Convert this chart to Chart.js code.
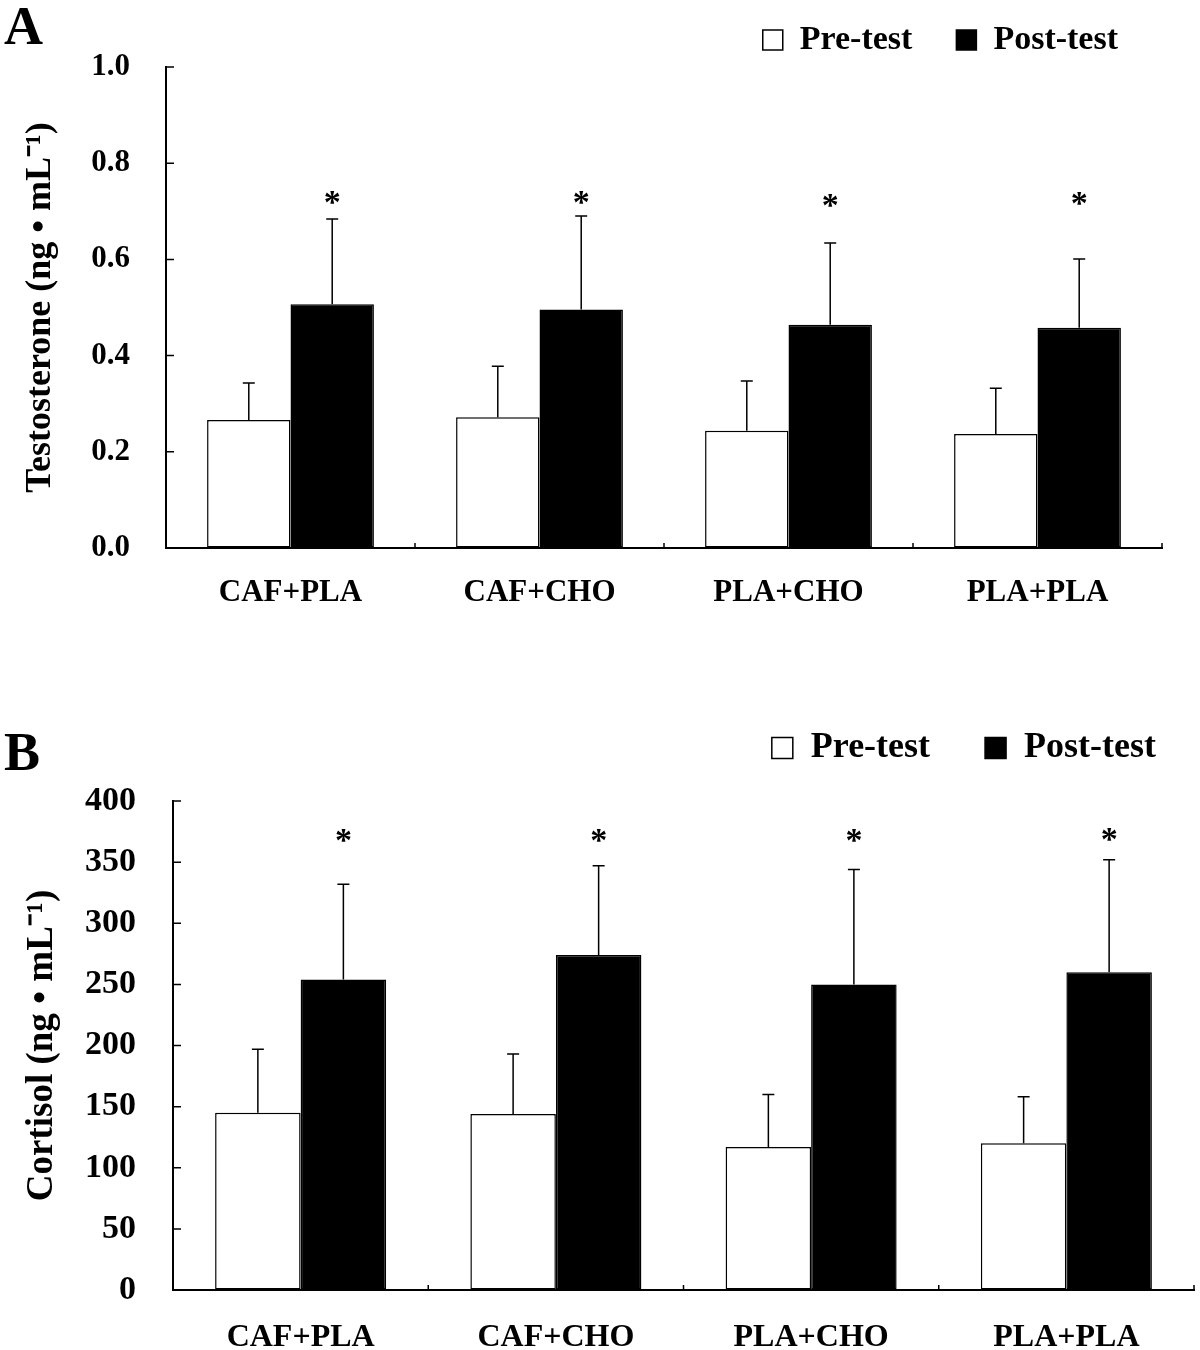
<!DOCTYPE html>
<html>
<head>
<meta charset="utf-8">
<script src="https://cdn.jsdelivr.net/npm/chart.js@4.4.0/dist/chart.umd.min.js"></script>
<style>
  body { margin: 0; background: #fff; width: 1200px; height: 1350px; position: relative; overflow: hidden; }
  .box { position: absolute; left: 0; width: 1200px; }
  .tag { position: absolute; left: 4px; font: bold 54px 'Liberation Serif', serif; line-height: 54px; color: #000; z-index: 2; }
</style>
</head>
<body>
<div class="tag" style="top:-1px">A</div>
<div class="tag" style="top:725px">B</div>
<div class="box" style="top:-21px;height:671px"><canvas id="chartA"></canvas></div>
<div class="box" style="top:675px;height:675px"><canvas id="chartB"></canvas></div>
<script>
const groups = ['CAF+PLA', 'CAF+CHO', 'PLA+CHO', 'PLA+PLA'];

// testosterone, ng/mL (mean and SD)
const testoPre = [0.266, 0.272, 0.244, 0.237];
const testoPreSD = [0.077, 0.106, 0.103, 0.095];
const testoPost = [0.507, 0.496, 0.464, 0.458];
const testoPostSD = [0.177, 0.194, 0.170, 0.143];
const testoStars = [0.722, 0.721, 0.716, 0.719];

// cortisol, ng/mL
const cortPre = [145, 144, 117, 120];
const cortPreSD = [52, 49, 43, 38];
const cortPost = [254, 274, 250, 260];
const cortPostSD = [78, 73, 94, 92];
const cortStars = [369, 369, 369, 370];

const testoTicks = [0, 0.2, 0.4, 0.6, 0.8, 1.0];
const cortTicks = [0, 50, 100, 150, 200, 250, 300, 350, 400];

Chart.defaults.color = '#000';
Chart.defaults.font.family = "'Liberation Serif', 'Times New Roman', serif";
Chart.defaults.font.weight = 'bold';

// error bars (upper only) + stars
const errorBars = {
  id: 'errorBars',
  afterDatasetsDraw(chart, args, opts) {
    const ctx = chart.ctx;
    const y = chart.scales.y;
    ctx.save();
    ctx.strokeStyle = '#000';
    ctx.lineWidth = 1.5;
    chart.data.datasets.forEach((ds, di) => {
      const meta = chart.getDatasetMeta(di);
      meta.data.forEach((bar, i) => {
        const top = y.getPixelForValue(ds.data[i] + ds.sd[i]);
        ctx.beginPath();
        ctx.moveTo(bar.x, bar.y);
        ctx.lineTo(bar.x, top);
        ctx.moveTo(bar.x - 6, top);
        ctx.lineTo(bar.x + 6, top);
        ctx.stroke();
      });
    });
    const post = chart.getDatasetMeta(1);
    ctx.fillStyle = '#000';
    ctx.font = 'bold ' + opts.starSize + "px 'Liberation Serif', serif";
    ctx.textAlign = 'center';
    ctx.textBaseline = 'alphabetic';
    opts.stars.forEach((v, i) => {
      ctx.fillText('*', post.data[i].x, y.getPixelForValue(v) + opts.starSize * 0.36);
    });
    ctx.restore();
  }
};

// inward tick marks on both axes
const innerTicks = {
  id: 'innerTicks',
  afterDraw(chart) {
    const ctx = chart.ctx;
    const {left, bottom} = chart.chartArea;
    const x = chart.scales.x, y = chart.scales.y;
    ctx.save();
    ctx.strokeStyle = '#000';
    ctx.lineWidth = 1.5;
    ctx.beginPath();
    y.ticks.forEach((t, i) => {
      const py = y.getPixelForTick(i);
      ctx.moveTo(left, py);
      ctx.lineTo(left + 8, py);
    });
    const n = chart.data.labels.length;
    for (let i = 1; i <= n; i++) {
      const px = x.left + i * (x.right - x.left) / n;
      ctx.moveTo(px, bottom);
      ctx.lineTo(px, bottom - 5);
    }
    ctx.stroke();
    ctx.restore();
  }
};

// fixed legend height, optional sideways nudge
function legendSpace(h, dx) {
  return {
    id: 'legendSpace',
    beforeInit(chart) {
      const lg = chart.legend;
      const fit = lg.fit;
      lg.fit = function () {
        fit.bind(lg)();
        this.height = h;
      };
      const draw = lg.draw;
      lg.draw = function () {
        chart.ctx.save();
        chart.ctx.translate(dx, 0);
        draw.bind(lg)();
        chart.ctx.restore();
      };
    }
  };
}

function makeChart(id, o) {
  new Chart(document.getElementById(id), {
    type: 'bar',
    data: {
      labels: groups,
      datasets: [{
        label: 'Pre-test',
        data: o.pre,
        sd: o.preSD,
        backgroundColor: '#fff',
        borderColor: '#000',
        borderWidth: 1.5,
        borderSkipped: false
      }, {
        label: 'Post-test',
        data: o.post,
        sd: o.postSD,
        backgroundColor: '#000',
        borderColor: '#000',
        borderWidth: 1.5,
        borderSkipped: false
      }]
    },
    options: {
      responsive: true,
      maintainAspectRatio: false,
      animation: false,
      layout: { padding: { left: 0, right: o.padRight, top: 0, bottom: 0 } },
      datasets: { bar: { categoryPercentage: 0.67, barPercentage: 1.0 } },
      plugins: {
        legend: {
          position: 'top',
          align: 'end',
          labels: {
            font: { size: o.legendSize, weight: 'bold' },
            boxWidth: o.boxSize,
            boxHeight: o.boxSize,
            padding: o.legendPad
          }
        },
        tooltip: { enabled: false },
        errorBars: { stars: o.stars, starSize: o.starSize }
      },
      scales: {
        x: {
          grid: { display: true, drawOnChartArea: false, drawTicks: false },
          border: { color: '#000', width: 2 },
          ticks: { font: { size: o.xSize, weight: 'bold' }, padding: o.xPad, maxRotation: 0 },
          afterFit: s => { s.height = o.xHeight; }
        },
        y: {
          min: o.ticks[0],
          max: o.ticks[o.ticks.length - 1],
          afterBuildTicks: s => { s.ticks = o.ticks.map(v => ({ value: v })); },
          grid: { display: true, drawOnChartArea: false, drawTicks: false },
          border: { color: '#000', width: 2 },
          ticks: { font: { size: o.tickSize, weight: 'bold' }, padding: o.tickPad, callback: o.fmt },
          title: {
            display: true,
            text: o.title,
            font: { size: o.titleSize, weight: 'bold' },
            padding: { top: o.titlePad, bottom: 0 }
          },
          afterFit: s => { s.width = o.yWidth; }
        }
      }
    },
    plugins: [errorBars, innerTicks, legendSpace(o.legendHeight, o.legendDx)]
  });
}

makeChart('chartA', {
  pre: testoPre, preSD: testoPreSD, post: testoPost, postSD: testoPostSD,
  stars: testoStars, ticks: testoTicks, fmt: v => v.toFixed(1),
  title: 'Testosterone (ng • mL\u207B\u00B9)',
  padRight: 38, yWidth: 166, xHeight: 102, legendHeight: 88, legendDx: 0,
  legendSize: 34, boxSize: 20, legendPad: 44,
  xSize: 31, xPad: 26, tickSize: 31, tickPad: 36, titleSize: 36, titlePad: 19, starSize: 34
});

makeChart('chartB', {
  pre: cortPre, preSD: cortPreSD, post: cortPost, postSD: cortPostSD,
  stars: cortStars, ticks: cortTicks, fmt: v => v,
  title: 'Cortisol (ng • mL\u207B\u00B9)',
  padRight: 6, yWidth: 173, xHeight: 60, legendHeight: 126, legendDx: 17,
  legendSize: 36, boxSize: 21, legendPad: 55,
  xSize: 32, xPad: 29, tickSize: 34, tickPad: 37, titleSize: 37, titlePad: 20, starSize: 34
});
</script>
</body>
</html>
